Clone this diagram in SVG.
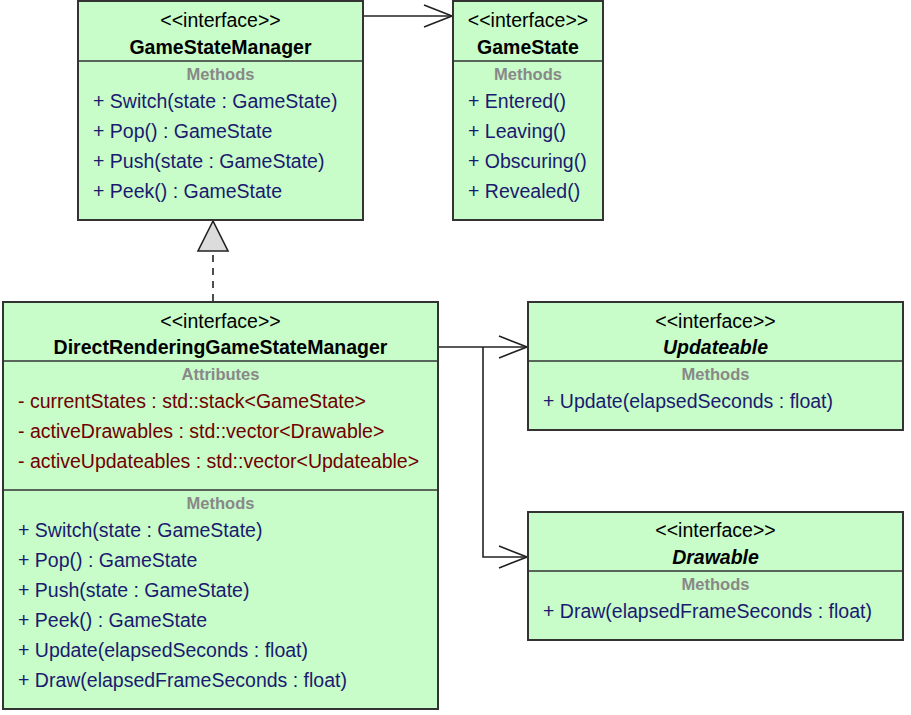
<svg xmlns="http://www.w3.org/2000/svg" width="911" height="715" viewBox="0 0 911 715">
<style>
.box{fill:#c8fcc8;stroke:#333;stroke-width:2}
.div{stroke:#333;stroke-width:1.5}
text{font-family:"Liberation Sans",Arial,sans-serif}
.st{font-size:19.5px;fill:#000;text-anchor:middle}
.nm{font-size:19.5px;font-weight:bold;fill:#000;text-anchor:middle}
.it{font-style:italic}
.sec{font-size:16.5px;font-weight:bold;fill:#888;text-anchor:middle}
.m{font-size:19.5px;fill:#1a1a70}
.a{font-size:19.5px;fill:#700000}
.ln{fill:none;stroke:#222;stroke-width:1.6}
</style>
<defs>
<marker id="open" viewBox="0 0 30 24" refX="29" refY="12" markerWidth="30" markerHeight="24" markerUnits="userSpaceOnUse" orient="auto">
<path d="M1,1 L29,12 L1,23" fill="none" stroke="#222" stroke-width="1.6"/>
</marker>
</defs>
<g id="connectors">
<line class="ln" x1="363" y1="16" x2="452" y2="16" marker-end="url(#open)"/>
<line class="ln" x1="213" y1="301" x2="213" y2="251" stroke-dasharray="7,6"/>
<polygon points="213,221 198,251 228,251" fill="#dcdcdc" stroke="#222" stroke-width="1.6"/>
<line class="ln" x1="438" y1="347" x2="527" y2="347" marker-end="url(#open)"/>
<polyline class="ln" points="483,347 483,557 527,557" marker-end="url(#open)"/>
</g>
<g id="GameStateManager">
<rect class="box" x="78" y="1" width="285" height="219"/>
<line class="div" x1="78" y1="61" x2="363" y2="61"/>
<text class="st" x="220.5" y="27">&lt;&lt;interface&gt;&gt;</text>
<text class="nm" x="220.5" y="54">GameStateManager</text>
<text class="sec" x="220.5" y="80">Methods</text>
<text class="m" x="93" y="108">+ Switch(state : GameState)</text>
<text class="m" x="93" y="138">+ Pop() : GameState</text>
<text class="m" x="93" y="168">+ Push(state : GameState)</text>
<text class="m" x="93" y="198">+ Peek() : GameState</text>
</g>
<g id="GameState">
<rect class="box" x="453" y="1" width="150" height="219"/>
<line class="div" x1="453" y1="61" x2="603" y2="61"/>
<text class="st" x="528" y="27">&lt;&lt;interface&gt;&gt;</text>
<text class="nm" x="528" y="54">GameState</text>
<text class="sec" x="528" y="80">Methods</text>
<text class="m" x="468" y="108">+ Entered()</text>
<text class="m" x="468" y="138">+ Leaving()</text>
<text class="m" x="468" y="168">+ Obscuring()</text>
<text class="m" x="468" y="198">+ Revealed()</text>
</g>
<g id="DirectRenderingGameStateManager">
<rect class="box" x="3" y="302" width="435" height="407"/>
<line class="div" x1="3" y1="361" x2="438" y2="361"/>
<line class="div" x1="3" y1="490" x2="438" y2="490"/>
<text class="st" x="220.5" y="328">&lt;&lt;interface&gt;&gt;</text>
<text class="nm" x="220.5" y="354">DirectRenderingGameStateManager</text>
<text class="sec" x="220.5" y="380">Attributes</text>
<text class="a" x="18" y="408">- currentStates : std::stack&lt;GameState&gt;</text>
<text class="a" x="18" y="438">- activeDrawables : std::vector&lt;Drawable&gt;</text>
<text class="a" x="18" y="468">- activeUpdateables : std::vector&lt;Updateable&gt;</text>
<text class="sec" x="220.5" y="509">Methods</text>
<text class="m" x="18" y="537">+ Switch(state : GameState)</text>
<text class="m" x="18" y="567">+ Pop() : GameState</text>
<text class="m" x="18" y="597">+ Push(state : GameState)</text>
<text class="m" x="18" y="627">+ Peek() : GameState</text>
<text class="m" x="18" y="657">+ Update(elapsedSeconds : float)</text>
<text class="m" x="18" y="687">+ Draw(elapsedFrameSeconds : float)</text>
</g>
<g id="Updateable">
<rect class="box" x="528" y="302" width="375" height="128"/>
<line class="div" x1="528" y1="361" x2="903" y2="361"/>
<text class="st" x="715.5" y="328">&lt;&lt;interface&gt;&gt;</text>
<text class="nm it" x="715.5" y="354">Updateable</text>
<text class="sec" x="715.5" y="380">Methods</text>
<text class="m" x="543" y="408">+ Update(elapsedSeconds : float)</text>
</g>
<g id="Drawable">
<rect class="box" x="528" y="512" width="375" height="128"/>
<line class="div" x1="528" y1="571" x2="903" y2="571"/>
<text class="st" x="715.5" y="537">&lt;&lt;interface&gt;&gt;</text>
<text class="nm it" x="715.5" y="564">Drawable</text>
<text class="sec" x="715.5" y="590">Methods</text>
<text class="m" x="543" y="618">+ Draw(elapsedFrameSeconds : float)</text>
</g>
</svg>
